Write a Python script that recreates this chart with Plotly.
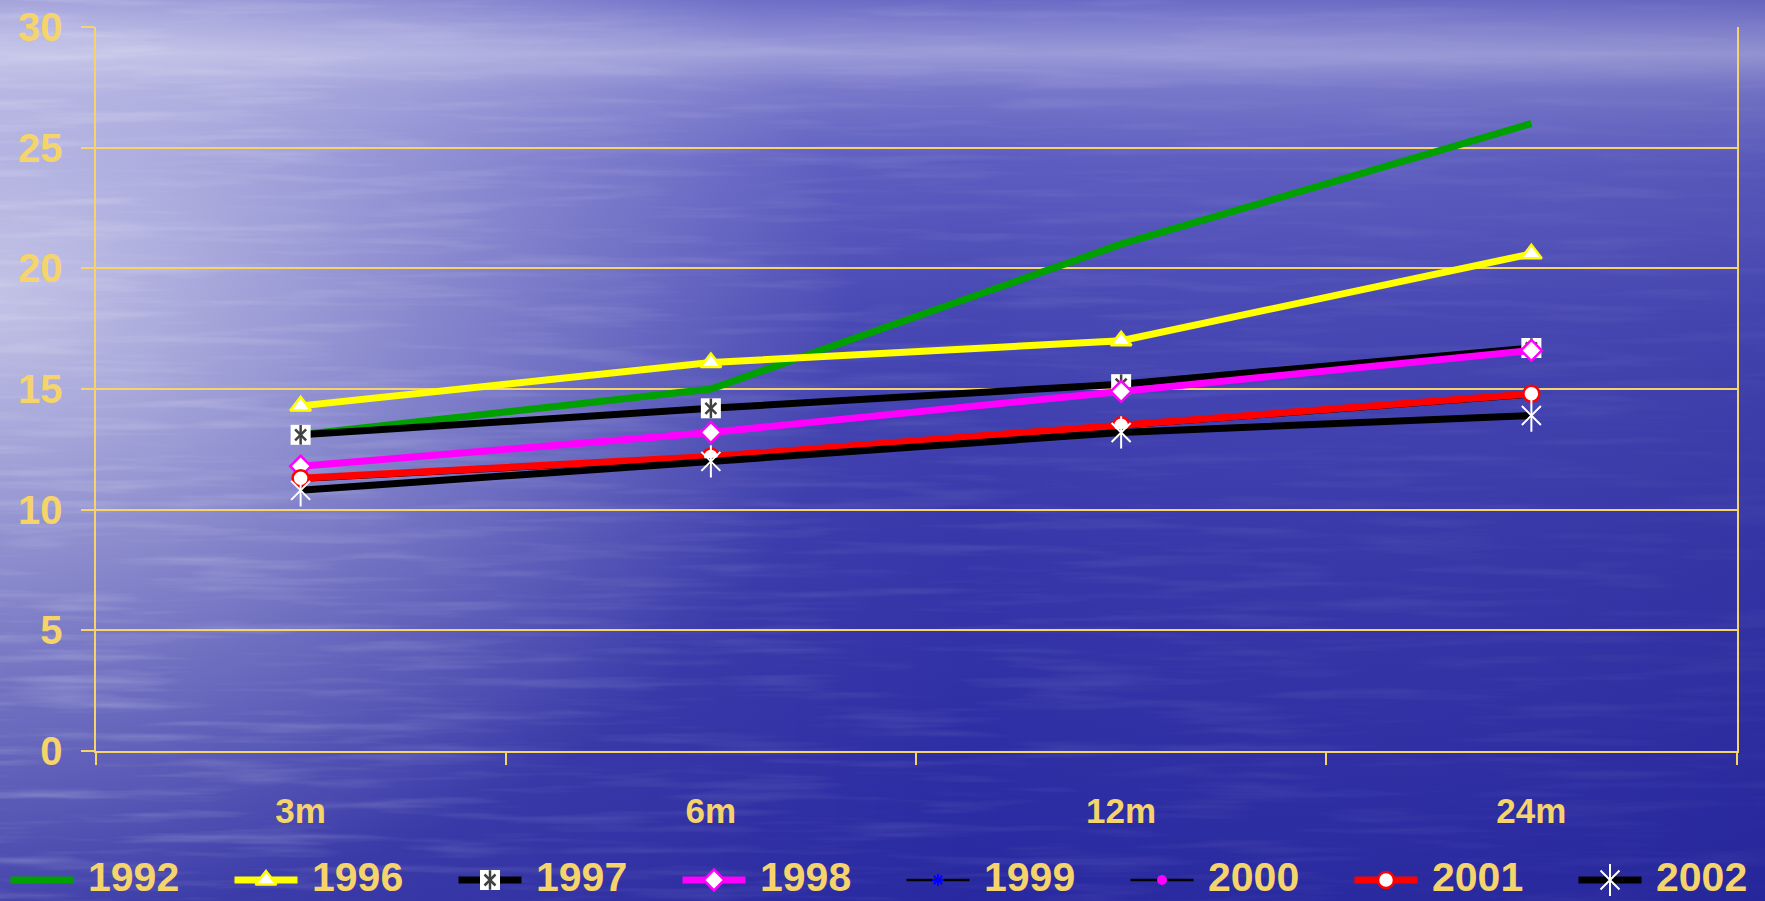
import base64
import plotly.graph_objects as go

# ---- data -------------------------------------------------------------
periods = ["3m", "6m", "12m", "24m"]
years = ["1992", "1996", "1997", "1998", "1999", "2000", "2001", "2002"]

v1992 = [13.1, 15.0, 21.0, 26.0]
v1996 = [14.3, 16.1, 17.0, 20.6]
v1997 = [13.1, 14.2, 15.2, 16.7]
v1998 = [11.8, 13.2, 14.9, 16.6]
v1999 = [11.2, 12.1, 13.4, 14.7]
v2000 = [11.3, 12.2, 13.5, 14.8]
v2001 = [11.3, 12.2, 13.5, 14.8]
v2002 = [10.8, 12.0, 13.2, 13.9]
series_values = [v1992, v1996, v1997, v1998, v1999, v2000, v2001, v2002]

y_ticks = [0, 5, 10, 15, 20, 25, 30]

# ---- styles -----------------------------------------------------------
W, H = 1765, 901
GOLD = "#F5D46C"
FONT = "Liberation Sans, Arial, sans-serif"

# line colour, line width, list of marker layers (drawn in order).
# Open symbols take their stroke colour from marker.color.
styles = {
    "1992": ("#00A000", 7, []),
    "1996": ("#FFFF00", 7, [dict(symbol="triangle-up", size=18, color="white",
                                 line=dict(color="#FFFF00", width=2.5))]),
    "1997": ("#000000", 7, [dict(symbol="square", size=20, color="white",
                                 line=dict(color="white", width=0)),
                            dict(symbol="x-thin-open", size=11, color="#404040",
                                 line=dict(width=2.5)),
                            dict(symbol="line-ns-open", size=14, color="#404040",
                                 line=dict(width=2.5))]),
    "1998": ("#FF00FF", 7, [dict(symbol="diamond", size=16, color="white",
                                 line=dict(color="#FF00FF", width=2.5))]),
    "1999": ("#000000", 2.5, [dict(symbol="asterisk-open", size=10,
                                   color="#0000FF", line=dict(width=1.8))]),
    "2000": ("#000000", 2.5, [dict(symbol="circle", size=10, color="#FF00FF",
                                   line=dict(color="#FF00FF", width=0))]),
    "2001": ("#FF0000", 7, [dict(symbol="circle", size=16, color="white",
                                 line=dict(color="#FF0000", width=2.5))]),
    "2002": ("#000000", 7, [dict(symbol="x-thin-open", size=19, color="white",
                                 line=dict(width=2)),
                            dict(symbol="line-ns-open", size=23, color="white",
                                 line=dict(width=2))]),
}

# ---- background: sea-like gradient --------------------------------------
svg = f"""<svg xmlns='http://www.w3.org/2000/svg' width='{W}' height='{H}' viewBox='0 0 {W} {H}' preserveAspectRatio='none'>
<defs>
<linearGradient id='v' x1='0' y1='0' x2='0' y2='1'>
<stop offset='0' stop-color='#6a6ac6'/>
<stop offset='0.03' stop-color='#8282d0'/>
<stop offset='0.06' stop-color='#9a9ad8'/>
<stop offset='0.1' stop-color='#7676ca'/>
<stop offset='0.18' stop-color='#5c5cc0'/>
<stop offset='0.35' stop-color='#4747b4'/>
<stop offset='0.6' stop-color='#3737aa'/>
<stop offset='1' stop-color='#2828a0'/>
</linearGradient>
<linearGradient id='h' x1='0' y1='0' x2='1' y2='0'>
<stop offset='0' stop-color='#ffffff' stop-opacity='0.12'/>
<stop offset='0.55' stop-color='#ffffff' stop-opacity='0'/>
<stop offset='1' stop-color='#000040' stop-opacity='0.05'/>
</linearGradient>
<radialGradient id='g' cx='0' cy='0' r='1' gradientUnits='userSpaceOnUse' gradientTransform='translate(0 300) scale(850 620)'>
<stop offset='0' stop-color='#ffffff' stop-opacity='0.62'/>
<stop offset='0.5' stop-color='#ffffff' stop-opacity='0.3'/>
<stop offset='1' stop-color='#ffffff' stop-opacity='0'/>
</radialGradient>
<linearGradient id='mg' x1='0' y1='0' x2='1' y2='0'>
<stop offset='0' stop-color='#ffffff' stop-opacity='0.9'/>
<stop offset='0.35' stop-color='#ffffff' stop-opacity='0.45'/>
<stop offset='1' stop-color='#ffffff' stop-opacity='0.18'/>
</linearGradient>
<mask id='m'><rect width='{W}' height='{H}' fill='url(#mg)'/></mask>
<filter id='t' x='0' y='0' width='100%' height='100%'>
<feTurbulence type='fractalNoise' baseFrequency='0.006 0.09' numOctaves='3' seed='7'/>
<feColorMatrix type='matrix' values='0 0 0 0 1  0 0 0 0 1  0 0 0 0 1  0 0 0 2.0 -0.95'/>
</filter>
</defs>
<rect width='{W}' height='{H}' fill='url(#v)'/>
<rect width='{W}' height='{H}' fill='url(#h)'/>
<rect width='{W}' height='{H}' fill='url(#g)'/>
<rect width='{W}' height='{H}' filter='url(#t)' opacity='0.28' mask='url(#m)'/>
</svg>"""
bg_uri = "data:image/svg+xml;base64," + base64.b64encode(svg.encode()).decode()

# ---- layout geometry (pixels) ------------------------------------------
plot_left, plot_right, plot_top, plot_bottom = 95.5, 1736.5, 27, 751
legend_row_y = 21          # pixels above the bottom edge
legend_x0, legend_step = 10.5, 224
legend_line_len, legend_text_dx = 63, 76

fig = go.Figure()

# ---- data series --------------------------------------------------------
for name, vals in zip(years, series_values):
    color, width, layers = styles[name]
    first = layers[0] if layers else None
    fig.add_trace(go.Scatter(
        x=periods, y=vals, name=name,
        mode="lines+markers" if first else "lines",
        line=dict(color=color, width=width),
        marker=first, xaxis="x", yaxis="y", showlegend=False,
        hoverinfo="name+x+y",
    ))
    for extra in layers[1:]:
        fig.add_trace(go.Scatter(
            x=periods, y=vals, mode="markers", marker=extra,
            xaxis="x", yaxis="y", showlegend=False, hoverinfo="skip",
        ))

# ---- legend row (helper axes in pixel units) ---------------------------
for i, name in enumerate(years):
    color, width, layers = styles[name]
    x0 = legend_x0 + legend_step * i
    fig.add_trace(go.Scatter(
        x=[x0, x0 + legend_line_len], y=[legend_row_y, legend_row_y],
        mode="lines", line=dict(color=color, width=width),
        xaxis="x2", yaxis="y2", showlegend=False, hoverinfo="skip",
    ))
    for layer in layers:
        fig.add_trace(go.Scatter(
            x=[x0 + legend_line_len / 2], y=[legend_row_y], mode="markers",
            marker=layer, xaxis="x2", yaxis="y2", showlegend=False,
            hoverinfo="skip",
        ))
    fig.add_annotation(
        x=x0 + legend_text_dx, y=0.5, xref="x2", yref="y2",
        text=name, showarrow=False, xanchor="left", yanchor="bottom",
        borderpad=0,
        font=dict(family=FONT, size=41, color=GOLD, weight="bold"),
    )

fig.update_layout(
    width=W, height=H,
    margin=dict(l=0, r=0, t=0, b=0, pad=0, autoexpand=False),
    paper_bgcolor="#3a3aad",
    plot_bgcolor="rgba(0,0,0,0)",
    showlegend=False,
    images=[dict(source=bg_uri, xref="paper", yref="paper", x=0, y=1,
                 sizex=1, sizey=1, sizing="stretch", layer="below",
                 xanchor="left", yanchor="top")],
    xaxis=dict(
        domain=[plot_left / W, plot_right / W],
        type="category", categoryorder="array", categoryarray=periods,
        range=[-0.5, 3.5], tickson="boundaries",
        ticks="outside", ticklen=12, tickwidth=2, tickcolor=GOLD,
        showline=True, linecolor=GOLD, linewidth=2,
        showgrid=False, zeroline=False, automargin=False,
        tickfont=dict(family=FONT, size=35, color=GOLD, weight="bold"),
        ticklabelstandoff=28,
        anchor="y",
    ),
    yaxis=dict(
        domain=[(H - plot_bottom) / H, (H - plot_top) / H],
        range=[0, 30], tickvals=y_ticks,
        ticks="outside", ticklen=13, tickwidth=2, tickcolor=GOLD,
        showline=True, linecolor=GOLD, linewidth=2, mirror=True,
        showgrid=True, gridcolor=GOLD, gridwidth=2, zeroline=False,
        automargin=False,
        tickfont=dict(family=FONT, size=40, color=GOLD, weight="bold"),
        ticklabelstandoff=10,
        anchor="x",
    ),
    xaxis2=dict(domain=[0, 1], range=[0, W], visible=False, anchor="y2",
                fixedrange=True, automargin=False),
    yaxis2=dict(domain=[0, 0.1], range=[0, H * 0.1], visible=False,
                anchor="x2", fixedrange=True, automargin=False),
)

fig.write_html("out.html")
